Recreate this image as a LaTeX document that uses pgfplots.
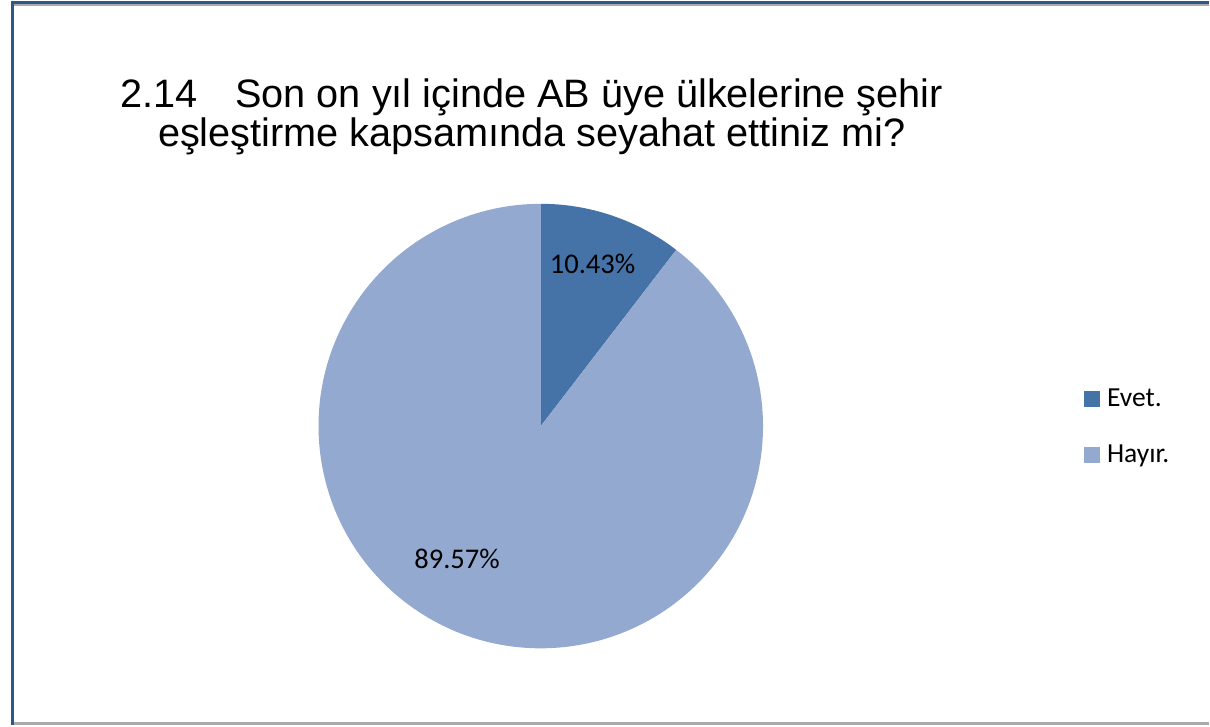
\documentclass[border=0pt]{standalone}
\usepackage{fontspec}
\setmainfont{Liberation Sans}
\newfontfamily\carlito{Carlito}
\usepackage{pgfplots}
\usepackage{pgfplotstable}
\pgfplotsset{compat=1.18}

\definecolor{evet}{RGB}{69,114,167}
\definecolor{hayir}{RGB}{148,169,208}
\definecolor{framblue}{RGB}{44,88,138}
\definecolor{framgray}{RGB}{170,170,170}

% share of answers, percent
\pgfplotstableread{
label   value
Evet.   10.43
Hayır.  89.57
}\piedata

\begin{document}
\pgfplotstablegetelem{0}{value}\of\piedata
\let\va\pgfplotsretval
\pgfplotstablegetelem{1}{value}\of\piedata
\let\vb\pgfplotsretval
\pgfmathsetmacro\aa{90-3.6*\va}
\pgfmathsetmacro\ab{\aa-3.6*\vb}
\begin{tikzpicture}
\begin{axis}[
    width=605bp, height=363.5bp,
    scale only axis,
    xmin=0, xmax=1210,
    ymin=0, ymax=727,
    y dir=reverse,
    hide axis,
    clip=false,
    legend image code/.code={\fill[#1] (0bp,-3.75bp) rectangle (7.5bp,3.75bp);},
    legend cell align=left,
    legend style={
        at={(axis cs:1085,428)}, anchor=west,
        draw=none, fill=none,
        font=\carlito\fontsize{13.8bp}{16bp}\selectfont,
        row sep=14bp,
        column sep=0bp,
        inner sep=0pt,
        nodes={inner xsep=3.5bp, inner ysep=2bp},
    },
    ]
% frame
\draw[framgray, line width=1.5bp] (axis cs:11,725) -- (axis cs:1210,725);
\draw[framgray, line width=1bp] (axis cs:11,4.5) -- (axis cs:1210,4.5);
\draw[framblue, line width=1.5bp] (axis cs:10,2) -- (axis cs:1210,2);
\draw[framblue, line width=1.5bp] (axis cs:10,1) -- (axis cs:10,727);

% slices, clockwise from twelve o'clock
\fill[evet] (axis cs:540,427) -- ++(90:111.5bp)
    arc[start angle=90, end angle=\aa, radius=111.5bp] -- cycle;
\fill[hayir] (axis cs:540,427) -- ++(\aa:111.5bp)
    arc[start angle=\aa, end angle=\ab, radius=111.5bp] -- cycle;

\addlegendimage{evet}
\addlegendimage{hayir}
\legend{Evet., Hayır.}

% data labels
\node[font=\carlito\fontsize{14.3bp}{16bp}\selectfont] at (axis cs:592,264) {\va\%};
\node[font=\carlito\fontsize{14.3bp}{16bp}\selectfont] at (axis cs:456,560) {\vb\%};

% title
\node[align=center, font=\fontsize{19.9bp}{18.5bp}\selectfont, anchor=north]
    at (axis cs:531,71)
    {2.14\hspace{0.95em}Son on yıl içinde AB üye ülkelerine şehir\\
     eşleştirme kapsamında seyahat ettiniz mi?};
\end{axis}
\end{tikzpicture}
\end{document}
